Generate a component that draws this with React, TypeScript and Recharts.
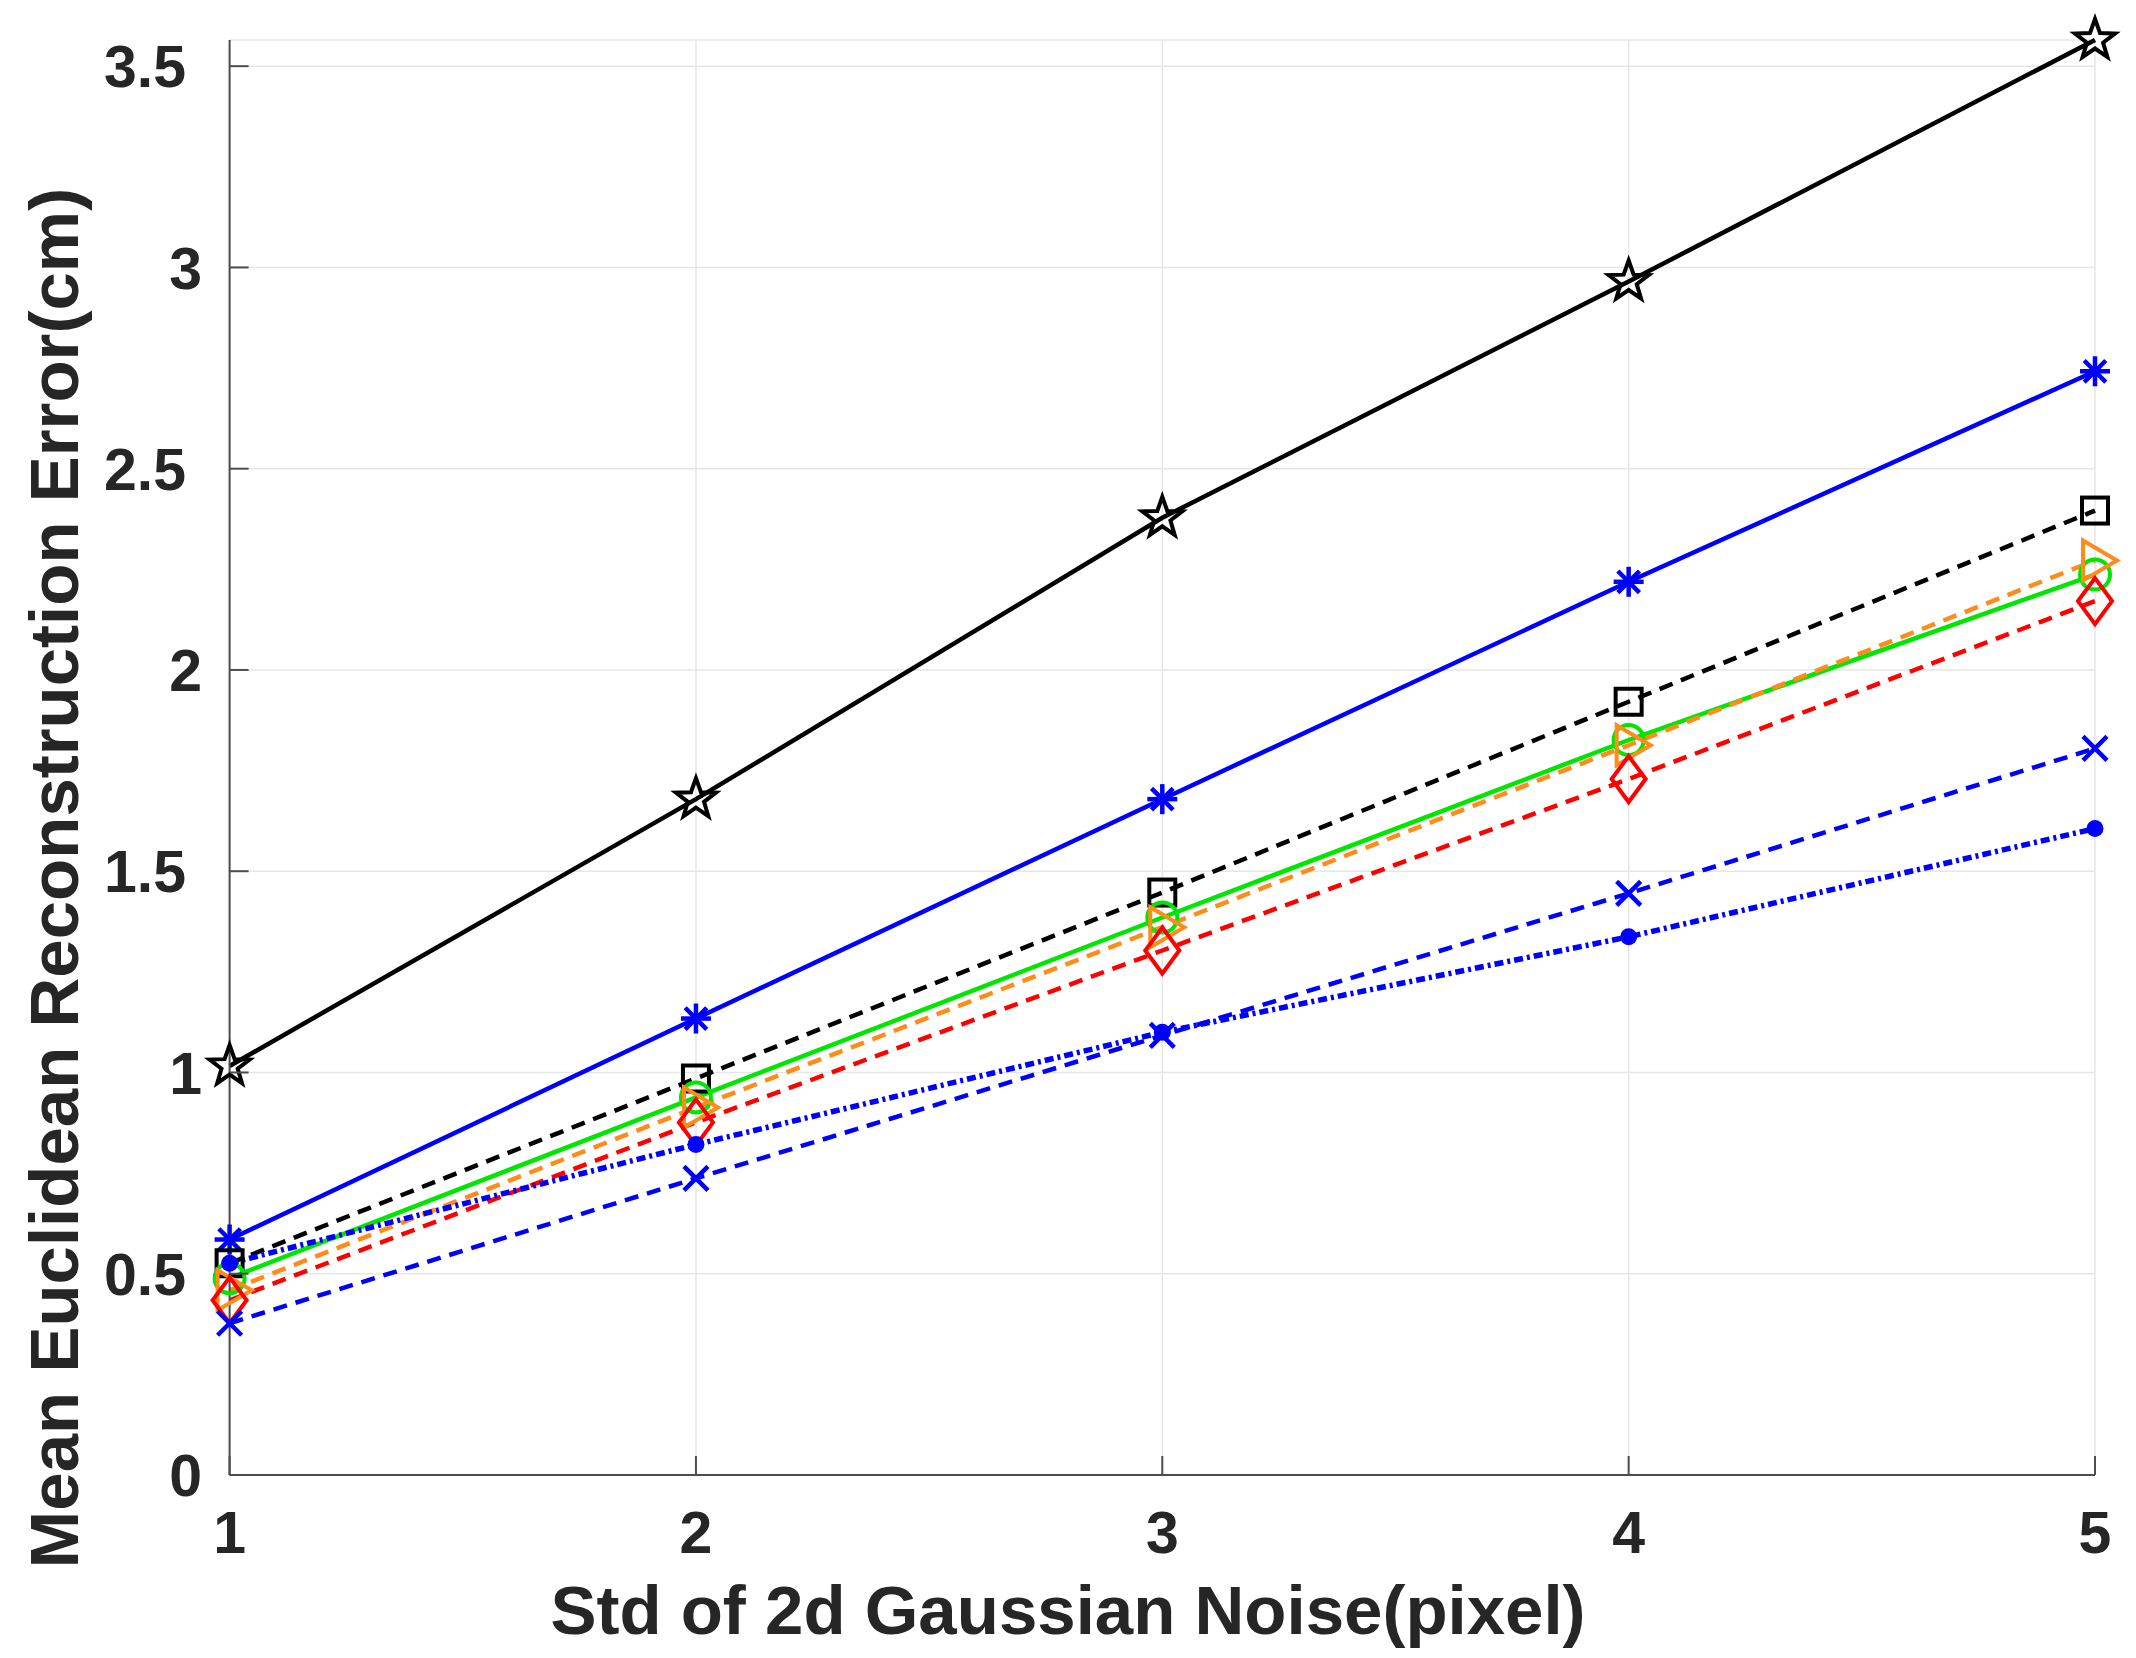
import React from 'react';
import { LineChart, Line, XAxis, YAxis, CartesianGrid } from 'recharts';

// ---------- data ----------
const X_VALUES = [1, 2, 3, 4, 5];
const X_TICKS = [1, 2, 3, 4, 5];
const Y_TICKS = [0, 0.5, 1, 1.5, 2, 2.5, 3, 3.5];
const Y_TICK_LABELS = ['0', '0.5', '1', '1.5', '2', '2.5', '3', '3.5'];
const Y_MAX = 3.565;

const STAR_SERIES = [1.016, 1.679, 2.378, 2.965, 3.565];
const ASTERISK_SERIES = [0.585, 1.134, 1.679, 2.219, 2.742];
const SQUARE_SERIES = [0.526, 0.985, 1.447, 1.921, 2.396];
const CIRCLE_SERIES = [0.489, 0.938, 1.385, 1.826, 2.237];
const TRIANGLE_SERIES = [0.459, 0.913, 1.361, 1.813, 2.272];
const DIAMOND_SERIES = [0.434, 0.876, 1.303, 1.729, 2.171];
const XMARK_SERIES = [0.377, 0.737, 1.092, 1.445, 1.805];
const DOT_SERIES = [0.526, 0.821, 1.1, 1.337, 1.606];

const X_LABEL = 'Std of 2d Gaussian Noise(pixel)';
const Y_LABEL = 'Mean Euclidean Reconstruction Error(cm)';

// ---------- styles / layout ----------
const W = 2136;
const H = 1658;
const PLOT_LEFT = 229.6;
const PLOT_TOP = 40;
const PLOT_RIGHT_MARGIN = 41;
const PLOT_BOTTOM_MARGIN = 183;
const PLOT_BOTTOM = H - PLOT_BOTTOM_MARGIN;
const FONT = '"Liberation Sans", Arial, Helvetica, sans-serif';
const TEXT_COLOR = '#262626';
const AXIS_COLOR = '#4d4d4d';
const TICK_LEN = 19;
const TICK_FONT = 59;
const MARKER_STROKE = 4;

type SeriesDef = {
  key: string;
  values: number[];
  color: string;
  width: number;
  dash?: string;
  marker: string;
};

const SERIES: SeriesDef[] = [
  { key: 'star', values: STAR_SERIES, color: '#000000', width: 4.5, marker: 'pentagram' },
  { key: 'asterisk', values: ASTERISK_SERIES, color: '#0000ff', width: 4.5, marker: 'asterisk' },
  { key: 'square', values: SQUARE_SERIES, color: '#000000', width: 4.5, dash: '14 9', marker: 'square' },
  { key: 'circle', values: CIRCLE_SERIES, color: '#00e600', width: 4.5, marker: 'circle' },
  { key: 'triangle', values: TRIANGLE_SERIES, color: '#ff8c1a', width: 4.5, dash: '14 9', marker: 'triangle' },
  { key: 'diamond', values: DIAMOND_SERIES, color: '#ff0000', width: 4.5, dash: '14 9', marker: 'diamond' },
  { key: 'xmark', values: XMARK_SERIES, color: '#0000ff', width: 4.5, dash: '14 9', marker: 'xmark' },
  { key: 'dot', values: DOT_SERIES, color: '#0000ff', width: 5.5, dash: '9 4 3 4', marker: 'dot' },
];

const chartData = X_VALUES.map((x, i) => {
  const row: Record<string, number> = { x };
  SERIES.forEach((s) => {
    row[s.key] = s.values[i];
  });
  return row;
});

function starPoints(cx: number, cy: number, R: number, r: number) {
  const pts: string[] = [];
  for (let i = 0; i < 10; i++) {
    const a = ((-90 + i * 36) * Math.PI) / 180;
    const rad = i % 2 === 0 ? R : r;
    pts.push(`${cx + rad * Math.cos(a)},${cy + rad * Math.sin(a)}`);
  }
  return pts.join(' ');
}

function Marker({ type, cx, cy, color }: { type: string; cx: number; cy: number; color: string }) {
  const common = { stroke: color, fill: 'none', strokeDasharray: 'none', strokeLinejoin: 'miter' as const };
  switch (type) {
    case 'pentagram':
      return <polygon points={starPoints(cx, cy, 21, 8.5)} {...common} strokeWidth={MARKER_STROKE} />;
    case 'asterisk': {
      const r = 15;
      const d = r * 0.72;
      return (
        <g stroke={color} strokeWidth={4.5} strokeDasharray="none">
          <line x1={cx - r} y1={cy} x2={cx + r} y2={cy} />
          <line x1={cx} y1={cy - r} x2={cx} y2={cy + r} />
          <line x1={cx - d} y1={cy - d} x2={cx + d} y2={cy + d} />
          <line x1={cx - d} y1={cy + d} x2={cx + d} y2={cy - d} />
        </g>
      );
    }
    case 'square':
      return <rect x={cx - 13} y={cy - 13} width={26} height={26} {...common} strokeWidth={MARKER_STROKE} />;
    case 'circle':
      return <circle cx={cx} cy={cy} r={15} {...common} strokeWidth={MARKER_STROKE} />;
    case 'triangle':
      return (
        <polygon
          points={`${cx - 12},${cy - 20} ${cx + 22},${cy} ${cx - 12},${cy + 20}`}
          {...common}
          strokeWidth={MARKER_STROKE}
        />
      );
    case 'diamond':
      return (
        <polygon
          points={`${cx},${cy - 23} ${cx + 17},${cy} ${cx},${cy + 23} ${cx - 17},${cy}`}
          {...common}
          strokeWidth={MARKER_STROKE}
        />
      );
    case 'xmark': {
      const r = 12;
      return (
        <g stroke={color} strokeWidth={4.5} strokeDasharray="none">
          <line x1={cx - r} y1={cy - r} x2={cx + r} y2={cy + r} />
          <line x1={cx - r} y1={cy + r} x2={cx + r} y2={cy - r} />
        </g>
      );
    }
    case 'dot':
      return <circle cx={cx} cy={cy} r={8.5} fill={color} stroke="none" />;
    default:
      return null;
  }
}

function makeDot(s: SeriesDef) {
  return (props: any) => {
    const { cx, cy, index } = props;
    if (cx == null || cy == null) return <g key={`${s.key}-${index}`} />;
    return (
      <g key={`${s.key}-${index}`}>
        <Marker type={s.marker} cx={cx} cy={cy} color={s.color} />
      </g>
    );
  };
}

function YTick(props: any) {
  const { y, payload } = props;
  const idx = Y_TICKS.indexOf(payload.value);
  const label = idx >= 0 ? Y_TICK_LABELS[idx] : String(payload.value);
  const endX = label.includes('.') ? 186 : 202;
  return (
    <g>
      <line x1={PLOT_LEFT} y1={y} x2={PLOT_LEFT + TICK_LEN} y2={y} stroke={AXIS_COLOR} strokeWidth={2} />
      <text
        x={endX}
        y={y}
        dy="0.36em"
        textAnchor="end"
        fontFamily={FONT}
        fontWeight="bold"
        fontSize={TICK_FONT}
        fill={TEXT_COLOR}
      >
        {label}
      </text>
    </g>
  );
}

function XTick(props: any) {
  const { x, payload } = props;
  return (
    <g>
      <line x1={x} y1={PLOT_BOTTOM} x2={x} y2={PLOT_BOTTOM - TICK_LEN} stroke={AXIS_COLOR} strokeWidth={2} />
      <text
        x={x}
        y={1553}
        textAnchor="middle"
        fontFamily={FONT}
        fontWeight="bold"
        fontSize={TICK_FONT}
        fill={TEXT_COLOR}
      >
        {String(payload.value)}
      </text>
    </g>
  );
}

const renderXLabel = () => (
  <text
    x={1068}
    y={1634}
    textAnchor="middle"
    fontFamily={FONT}
    fontWeight="bold"
    fontSize={69}
    fill={TEXT_COLOR}
  >
    {X_LABEL}
  </text>
);

const renderYLabel = () => (
  <text
    x={78}
    y={878}
    transform="rotate(-90 78 878)"
    textAnchor="middle"
    fontFamily={FONT}
    fontWeight="bold"
    fontSize={69}
    fill={TEXT_COLOR}
  >
    {Y_LABEL}
  </text>
);

export default function App() {
  return (
    <div style={{ position: 'absolute', left: 0, top: 0, width: W, height: H, background: '#ffffff' }}>
      <LineChart
        width={W}
        height={H}
        data={chartData}
        margin={{ top: PLOT_TOP, right: PLOT_RIGHT_MARGIN, bottom: 0, left: 0 }}
      >
        <CartesianGrid stroke="#e6e6e6" strokeWidth={1.5} />
        <XAxis
          dataKey="x"
          type="number"
          domain={[1, 5]}
          ticks={X_TICKS}
          height={PLOT_BOTTOM_MARGIN}
          axisLine={{ stroke: AXIS_COLOR, strokeWidth: 2 }}
          tickLine={false}
          tick={<XTick />}
          label={renderXLabel}
          interval={0}
        />
        <YAxis
          type="number"
          domain={[0, Y_MAX]}
          ticks={Y_TICKS}
          width={PLOT_LEFT}
          axisLine={{ stroke: AXIS_COLOR, strokeWidth: 2 }}
          tickLine={false}
          tick={<YTick />}
          label={renderYLabel}
          interval={0}
        />
        {SERIES.map((s) => (
          <Line
            key={s.key}
            type="linear"
            dataKey={s.key}
            stroke={s.color}
            strokeWidth={s.width}
            strokeDasharray={s.dash}
            dot={makeDot(s)}
            activeDot={false}
            isAnimationActive={false}
          />
        ))}
      </LineChart>
    </div>
  );
}
